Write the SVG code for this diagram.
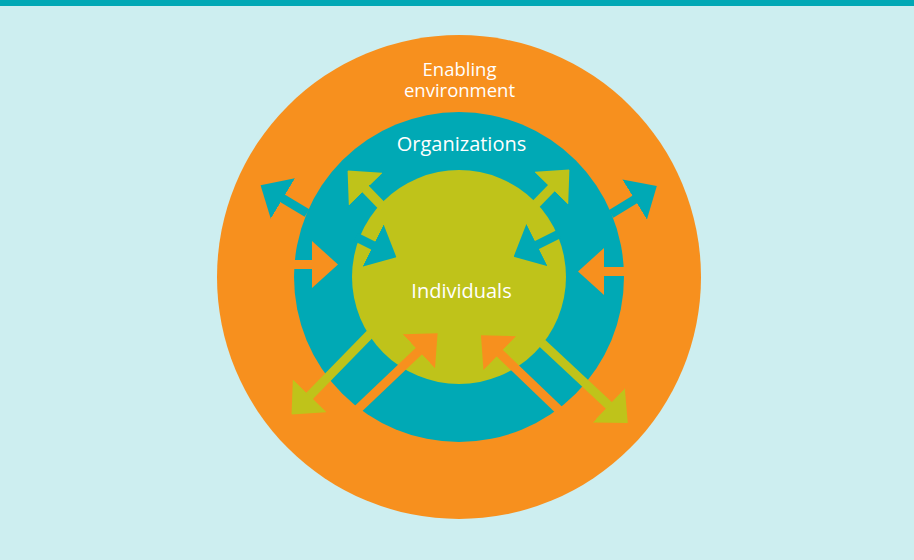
<svg xmlns="http://www.w3.org/2000/svg" width="914" height="560" viewBox="0 0 914 560">
  <style>
    .lbl { font-family: "Open Sans", "Liberation Sans", sans-serif; font-size: 20px; fill: #ffffff; text-anchor: middle; }
    .env { font-size: 18.5px; }
    .teal { stroke: #00a9b5; stroke-width: 9; fill: none; }
    .orange { stroke: #f7901e; stroke-width: 9; fill: none; }
    .green { stroke: #bfc31a; stroke-width: 9; fill: none; }
  </style>
  <defs>
    <marker id="hTeal" markerUnits="userSpaceOnUse" viewBox="0 0 26 47" refX="1" refY="23.5" markerWidth="26" markerHeight="47" orient="auto">
      <path d="M0,0 L26,23.5 L0,47 Z" fill="#00a9b5"/>
    </marker>
    <marker id="hOrange" markerUnits="userSpaceOnUse" viewBox="0 0 26 47" refX="1" refY="23.5" markerWidth="26" markerHeight="47" orient="auto">
      <path d="M0,0 L26,23.5 L0,47 Z" fill="#f7901e"/>
    </marker>
    <marker id="hGreen" markerUnits="userSpaceOnUse" viewBox="0 0 26 47" refX="1" refY="23.5" markerWidth="26" markerHeight="47" orient="auto">
      <path d="M0,0 L26,23.5 L0,47 Z" fill="#bfc31a"/>
    </marker>
  </defs>
  <rect x="0" y="0" width="914" height="560" fill="#cdeef0"/>
  <rect x="0" y="0" width="914" height="6" fill="#00a8b5"/>

  <g id="enabling-environment">
    <circle cx="459" cy="277" r="242" fill="#f7901e"/>
    <text class="lbl env" x="459.5" y="76"><tspan x="459.5" y="76">Enabling</tspan><tspan x="459.5" y="97">environment</tspan></text>
  </g>
  <g id="organizations">
    <circle cx="459" cy="277" r="165" fill="#00a9b5"/>
    <text class="lbl" x="461.5" y="151">Organizations</text>
  </g>
  <g id="individuals">
    <circle cx="459" cy="277" r="107" fill="#bfc31a"/>
  </g>

  <g id="connectors">
    <line class="teal" x1="307" y1="213" x2="282" y2="198" marker-end="url(#hTeal)"/>
    <line class="green" x1="381" y1="205" x2="365" y2="188.5" marker-end="url(#hGreen)"/>
    <line class="teal" x1="356" y1="237" x2="374" y2="246" marker-end="url(#hTeal)"/>
    <line class="orange" x1="290" y1="264.5" x2="313" y2="264.5" marker-end="url(#hOrange)"/>
    <line class="green" x1="536" y1="204" x2="552" y2="187.5" marker-end="url(#hGreen)"/>
    <line class="teal" x1="611" y1="214" x2="635.5" y2="199" marker-end="url(#hTeal)"/>
    <line class="teal" x1="559" y1="234" x2="536" y2="245.5" marker-end="url(#hTeal)"/>
    <line class="orange" x1="628" y1="271.5" x2="603" y2="271.5" marker-end="url(#hOrange)"/>
    <line class="green" x1="370" y1="334" x2="309" y2="396.5" marker-end="url(#hGreen)"/>
    <line class="orange" x1="358" y1="409" x2="419.5" y2="350.5" marker-end="url(#hOrange)"/>
    <line class="orange" x1="559" y1="410" x2="499" y2="352.5" marker-end="url(#hOrange)"/>
    <line class="green" x1="542" y1="343" x2="609.5" y2="406" marker-end="url(#hGreen)"/>
  </g>

  <text class="lbl" x="461.5" y="298">Individuals</text>
</svg>
